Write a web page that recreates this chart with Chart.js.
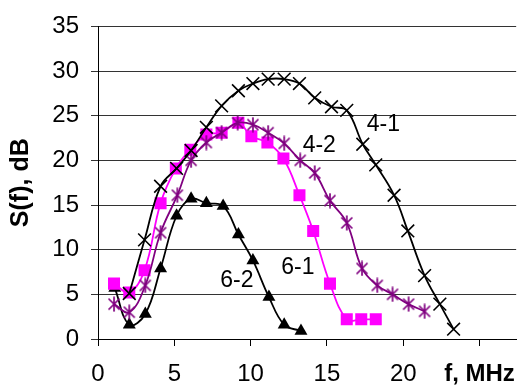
<!DOCTYPE html>
<html>
<head>
<meta charset="utf-8">
<script src="https://cdn.jsdelivr.net/npm/chart.js@4"></script>
<style>
  body { margin: 0; background: #fff; }
</style>
</head>
<body>
<canvas id="chart" width="530" height="391"></canvas>
<script>
// values (f in MHz, S in dB)
const f41 = [2.05, 3.05, 4.1, 5.15, 6.1, 7.1, 8.1, 9.2, 10.15, 11.15, 12.2, 13.2, 14.2, 15.3, 16.3, 17.35, 18.2, 19.4, 20.3, 21.4, 22.4, 23.3];
const s41 = [5.1, 11.1, 17.1, 19.1, 21.1, 23.7, 26.1, 27.8, 28.6, 29.1, 29.1, 28.6, 27.0, 26.0, 25.6, 21.8, 19.5, 16.1, 12.1, 7.1, 3.9, 1.1];

const f42 = [1.05, 2.05, 3.1, 4.1, 5.2, 6.1, 7.1, 8.1, 9.15, 10.15, 11.15, 12.2, 13.25, 14.2, 15.2, 16.3, 17.3, 18.3, 19.3, 20.35, 21.4];
const s42 = [3.9, 3.0, 6.0, 11.9, 16.1, 20.0, 22.0, 23.1, 24.2, 24.0, 23.1, 21.9, 20.0, 18.6, 15.5, 13.0, 7.9, 6.0, 5.0, 3.9, 3.1];

const f61 = [1.05, 2.05, 3.05, 4.1, 5.1, 6.05, 7.1, 8.1, 9.2, 10.05, 11.1, 12.15, 13.2, 14.1, 15.2, 16.3, 17.25, 18.2];
const s61 = [6.2, 5.2, 7.7, 15.2, 19.1, 21.2, 22.9, 23.1, 24.2, 22.7, 22.0, 20.2, 16.1, 12.1, 6.2, 2.2, 2.2, 2.2];

const f62 = [1.1, 2.05, 3.1, 4.1, 5.15, 6.1, 7.1, 8.2, 9.2, 10.15, 11.2, 12.2, 13.3];
const s62 = [5.7, 1.6, 2.8, 7.9, 13.8, 15.7, 15.2, 14.9, 11.7, 8.8, 4.7, 1.6, 0.9];

const seriesNames = ["4-1", "4-2", "6-1", "6-2"];
// where the curve names sit, in data units
const nameAt = [[18.7, 24.0], [14.5, 21.7], [13.1, 8.0], [9.1, 6.5]];

const xTicks = [0, 5, 10, 15, 20];
const xUnitLabel = "f, MHz";
const yTitle = "S(f), dB";

const FONT = "'Liberation Sans', Arial, sans-serif";

function pts(xs, ys) {
  return xs.map((x, i) => ({ x: x, y: ys[i] }));
}

// excel-like asterisk marker (X plus vertical bar)
function asterisk(color) {
  const c = document.createElement("canvas");
  c.width = 14; c.height = 16;
  const g = c.getContext("2d");
  g.strokeStyle = color;
  g.lineWidth = 1.7;
  g.beginPath();
  g.moveTo(1.5, 2.5); g.lineTo(12.5, 13.5);
  g.moveTo(12.5, 2.5); g.lineTo(1.5, 13.5);
  g.moveTo(7, 0.5); g.lineTo(7, 15.5);
  g.stroke();
  return c;
}

const namesPlugin = {
  id: "names",
  afterDatasetsDraw(chart) {
    const ctx = chart.ctx;
    const xs = chart.scales.x, ys = chart.scales.y;
    ctx.save();
    ctx.font = "23px " + FONT;
    ctx.fillStyle = "#000";
    ctx.textAlign = "center";
    ctx.textBaseline = "middle";
    seriesNames.forEach((n, i) => {
      ctx.fillText(n, xs.getPixelForValue(nameAt[i][0]), ys.getPixelForValue(nameAt[i][1]));
    });
    ctx.restore();
  }
};

const ctx = document.getElementById("chart").getContext("2d");
new Chart(ctx, {
  type: "line",
  data: {
    datasets: [
      {
        label: "4-1",
        data: pts(f41, s41),
        borderColor: "#000",
        borderWidth: 1.8,
        pointStyle: "crossRot",
        pointRadius: 9,
        pointBorderWidth: 1.6,
        pointBorderColor: "#000",
        pointBackgroundColor: "#000",
        tension: 0.4
      },
      {
        label: "4-2",
        data: pts(f42, s42),
        borderColor: "#800080",
        borderWidth: 1.8,
        pointStyle: asterisk("#800080"),
        pointRadius: 7,
        tension: 0.4
      },
      {
        label: "6-1",
        data: pts(f61, s61),
        borderColor: "#ff00ff",
        borderWidth: 1.8,
        pointStyle: "rect",
        pointRadius: 8.5,
        pointBorderWidth: 0,
        pointBackgroundColor: "#ff00ff",
        pointBorderColor: "#ff00ff",
        tension: 0.4
      },
      {
        label: "6-2",
        data: pts(f62, s62),
        borderColor: "#000",
        borderWidth: 1.8,
        pointStyle: "triangle",
        pointRadius: 7.5,
        pointBorderWidth: 0,
        pointBackgroundColor: "#000",
        pointBorderColor: "#000",
        tension: 0.4
      }
    ]
  },
  options: {
    responsive: false,
    animation: false,
    layout: { padding: { top: 22, right: 13, left: 0, bottom: 0 } },
    plugins: {
      legend: { display: false },
      tooltip: { enabled: false }
    },
    scales: {
      x: {
        type: "linear",
        min: 0,
        max: 27.4,
        afterFit(s) { s.height = 52; },
        afterBuildTicks(s) {
          s.ticks = xTicks.concat([25]).map(v => ({ value: v }));
        },
        ticks: {
          stepSize: 5,
          includeBounds: false,
          padding: 14,
          color: "#000",
          maxRotation: 0,
          autoSkip: false,
          callback: (v) => v === 25 ? xUnitLabel : v,
          font: (c) => (c.tick && c.tick.value === 25)
            ? { family: FONT, size: 24, weight: "bold" }
            : { family: FONT, size: 24 }
        },
        grid: {
          drawOnChartArea: false,
          drawTicks: true,
          tickLength: 7,
          color: "#000"
        },
        border: { color: "#000", width: 1 }
      },
      y: {
        min: 0,
        max: 35,
        afterFit(s) { s.width = 98; },
        ticks: {
          stepSize: 5,
          padding: 12,
          color: "#000",
          font: { family: FONT, size: 24 }
        },
        grid: {
          color: "#333",
          tickLength: 7
        },
        border: { color: "#000", width: 1 },
        title: {
          display: true,
          text: yTitle,
          color: "#000",
          font: { family: FONT, size: 25, weight: "bold" },
          padding: { top: 6, bottom: 0 }
        }
      }
    }
  },
  plugins: [namesPlugin]
});
</script>
</body>
</html>
